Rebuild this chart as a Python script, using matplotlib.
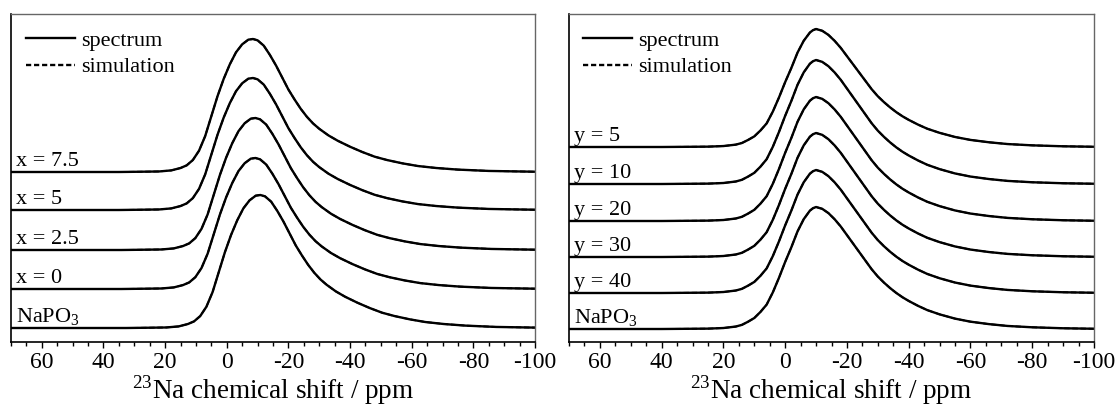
import matplotlib
matplotlib.use("Agg")
import matplotlib.pyplot as plt
import numpy as np

plt.rcParams['font.family'] = ['Liberation Serif', 'DejaVu Serif']
plt.rcParams['mathtext.fontset'] = 'custom'
plt.rcParams['mathtext.rm'] = 'Liberation Serif'
plt.rcParams['axes.unicode_minus'] = False

# ---- read-off line-shape profiles (ppm, normalised intensity) ----
left_ppm = [75, 50, 35, 28, 22, 18, 15, 13, 11, 9, 7, 5, 3, 1, -1, -3, -5, -7, -8.5,
            -10, -12, -14, -16, -18, -20, -22, -24, -26, -28, -30, -33, -36, -40, -44,
            -48, -52, -57, -62, -68, -75, -85, -105]
left_int = [0, 0, 0, 0.002, 0.004, 0.012, 0.03, 0.05, 0.09, 0.16, 0.27, 0.42, 0.57,
            0.70, 0.81, 0.90, 0.96, 0.995, 1.0, 0.99, 0.95, 0.88, 0.80, 0.71, 0.62,
            0.545, 0.475, 0.415, 0.365, 0.325, 0.275, 0.235, 0.19, 0.15, 0.115, 0.09,
            0.065, 0.045, 0.03, 0.018, 0.008, 0.0]

right_ppm = [75, 40, 25, 20, 16, 14, 12, 10, 8, 6, 4, 2, 0, -2, -4, -6, -8, -9, -10,
             -12, -14, -16, -18, -20, -22, -24, -26, -28, -30, -32, -34, -36, -38,
             -40, -43, -46, -50, -55, -60, -66, -72, -80, -90, -105]
right_int = [0, 0, 0.003, 0.008, 0.02, 0.034, 0.06, 0.09, 0.14, 0.20, 0.30, 0.42, 0.55,
             0.67, 0.80, 0.90, 0.97, 0.99, 1.0, 0.985, 0.95, 0.90, 0.84, 0.77, 0.70,
             0.63, 0.56, 0.49, 0.43, 0.38, 0.335, 0.295, 0.26, 0.23, 0.19, 0.155,
             0.12, 0.085, 0.06, 0.04, 0.025, 0.014, 0.006, 0.0]

# ---- per-spectrum values (top to bottom) ----
left_labels = ['x = 7.5', 'x = 5', 'x = 2.5', 'x = 0', 'NaPO$_\\mathregular{3}$']
left_shift = [0.0, 0.0, -0.8, -0.8, -2.4]        # ppm shift of peak
left_height = [133, 132, 132, 131, 133]
left_offset = [156, 118, 78, 39, 0]

right_labels = ['y = 5', 'y = 10', 'y = 20', 'y = 30', 'y = 40', 'NaPO$_\\mathregular{3}$']
right_shift = [0.0, 0.0, 0.0, 0.0, 0.0, 0.0]
right_height = [118, 124, 124, 124, 123, 122]
right_offset = [182, 145, 108, 72, 36, 0]

xticks = [60, 40, 20, 0, -20, -40, -60, -80, -100]

W, H = 1117, 405
fig = plt.figure(figsize=(W / 100, H / 100), dpi=100)

panels = [
    dict(rect=(11, 14, 535, 342), ppm=left_ppm, inten=left_int, labels=left_labels,
         shift=left_shift, height=left_height, offset=left_offset, ylim=(-14, 314),
         leg_x=15),
    dict(rect=(569, 14, 1094, 342), ppm=right_ppm, inten=right_int, labels=right_labels,
         shift=right_shift, height=right_height, offset=right_offset, ylim=(-13, 315),
         leg_x=14),
]

for p in panels:
    x0, y0, x1, y1 = p['rect']
    ax = fig.add_axes([x0 / W, 1 - y1 / H, (x1 - x0) / W, (y1 - y0) / H])
    ppm = np.array(p['ppm'])
    inten = np.array(p['inten'])
    for lab, sh, hgt, off in zip(p['labels'], p['shift'], p['height'], p['offset']):
        xs = ppm + sh
        ys = inten * hgt + off
        ax.plot(xs, ys, color='black', lw=1.7, solid_capstyle='butt', solid_joinstyle='round')
        ax.plot(xs, ys, color='black', lw=1.3, ls=(0, (3, 1.5)))
        ax.text(68.5, off + 6, lab, fontsize=16, ha='left', va='baseline')
    ax.set_xlim(70, -100)
    ax.set_ylim(*p['ylim'])
    ax.set_xticks(xticks)
    ax.set_xticklabels([str(t) for t in xticks], fontsize=17)
    ax.set_xticks(np.arange(70, -101, -5), minor=True)
    ax.set_yticks([])
    ax.tick_params(axis='x', which='major', direction='out', length=4, width=1.0, pad=3)
    ax.tick_params(axis='x', which='minor', direction='out', length=3, width=1.0)
    for s in ['top', 'right']:
        ax.spines[s].set_color('#666666')
        ax.spines[s].set_linewidth(1.0)
    for s in ['left', 'bottom']:
        ax.spines[s].set_color('black')
        ax.spines[s].set_linewidth(1.2)
    ax.set_xlabel('$^{\\mathregular{23}}$Na chemical shift / ppm', fontsize=19.5, labelpad=0)
    h1, = ax.plot([], [], color='black', lw=1.7)
    h2, = ax.plot([], [], color='black', lw=1.7, ls=(0, (2.2, 1.2)))
    axw = x1 - x0
    axh = y1 - y0
    ax.legend([h1, h2], ['spectrum', 'simulation'], loc='upper left', frameon=False,
              fontsize=16, handlelength=2.2, handletextpad=0.3, labelspacing=0.28,
              borderpad=0, borderaxespad=0,
              bbox_to_anchor=(p['leg_x'] / axw, 1 - 16 / axh))

fig.savefig('out.png', dpi=100)
